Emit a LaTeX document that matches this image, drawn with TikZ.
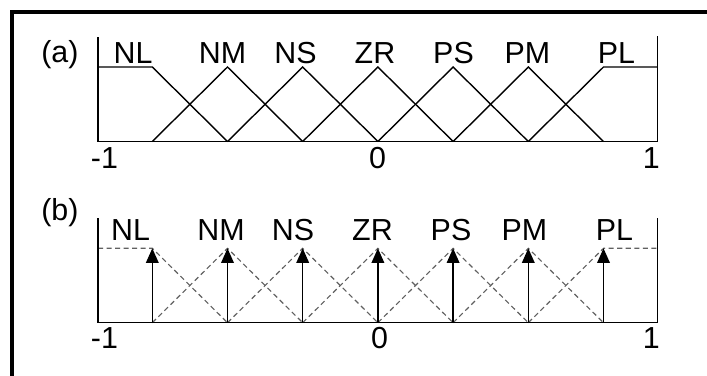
\documentclass[tikz,border=0pt]{standalone}
\usepackage{fontspec}
\setmainfont{Liberation Sans}
\usetikzlibrary{arrows.meta}
\begin{document}
\begin{tikzpicture}[x=0.75pt,y=-0.75pt,
  frame/.style={line width=3pt},
  axisline/.style={line width=1.15pt},
  mfline/.style={line width=1.05pt, line join=miter},
  mfdash/.style={line width=0.85pt, gray!75!black, dash pattern=on 3.8pt off 2.6pt},
  spike/.style={line width=1.15pt, -{Triangle[length=11pt,width=9.5pt]}},
  lbl/.style={font=\fontsize{22.8}{26}\selectfont, anchor=base, inner sep=0pt},
]
\useasboundingbox (0,0) rectangle (707,375);
\begin{scope}
  \clip (0,0) rectangle (707,375);
  \coordinate (fbl) at (12,400);
  \coordinate (ftl) at (12,11.5);
  \coordinate (ftr) at (730,11.5);
  \draw[frame] (fbl) -- (ftl) -- (ftr);
\end{scope}

% ---------- panel (a) ----------
\coordinate (aL0) at (98,141.5);
\coordinate (aLt) at (98,37);
\coordinate (aR0) at (657.3,141.5);
\coordinate (aRt) at (657.3,36);
\coordinate (aLtop) at (98,67);
\coordinate (aRtop) at (657.3,67);
\foreach \i in {0,...,6}{
  \coordinate (ab\i) at ({152.3+75.2*\i},141.5);
  \coordinate (ap\i) at ({152.3+75.2*\i},67);
}
\draw[axisline] (aLt) -- (aL0) -- (aR0) -- (aRt);
\draw[mfline] (aLtop) -- (ap0) -- (ab1);
\foreach \i/\a/\b in {1/0/2,2/1/3,3/2/4,4/3/5,5/4/6}{
  \draw[mfline] (ab\a) -- (ap\i) -- (ab\b);
}
\draw[mfline] (ab5) -- (ap6) -- (aRtop);

\node[lbl, anchor=base west] (alab) at (41,62) {(a)};
\foreach \n/\x in {NL/133,NM/222.5,NS/295.5,ZR/375,PS/453.5,PM/527.5,PL/616.5}{
  \node[lbl] (a\n) at (\x,63) {\n};
}
\node[lbl] (aminus) at (104.5,168) {-1};
\node[lbl] (azero) at (377.5,168.5) {0};
\node[lbl, anchor=base east] (aone) at (660,168) {1};

% ---------- panel (b) ----------
\coordinate (bL0) at (98,322.7);
\coordinate (bLt) at (98,218);
\coordinate (bR0) at (657.3,322.7);
\coordinate (bRt) at (657.3,217.7);
\coordinate (bLtop) at (98,248.3);
\coordinate (bRtop) at (657.3,248.3);
\foreach \i in {0,...,6}{
  \coordinate (bb\i) at ({152.3+75.2*\i},322.7);
  \coordinate (bp\i) at ({152.3+75.2*\i},248.3);
}
\draw[mfdash] (bLtop) -- (bp0) -- (bb1);
\foreach \i/\a/\b in {1/0/2,2/1/3,3/2/4,4/3/5,5/4/6}{
  \draw[mfdash] (bb\a) -- (bp\i) -- (bb\b);
}
\draw[mfdash] (bb5) -- (bp6) -- (bRtop);
\draw[axisline] (bLt) -- (bL0) -- (bR0) -- (bRt);
\foreach \i in {0,...,6}{
  \draw[spike] (bb\i) -- (bp\i);
}

\node[lbl, anchor=base west] (blab) at (41,220) {(b)};
\foreach \n/\x in {NL/130.5,NM/221,NS/293,ZR/372.5,PS/451,PM/524.5,PL/614.5}{
  \node[lbl] (b\n) at (\x,240) {\n};
}
\node[lbl] (bminus) at (104.5,348.3) {-1};
\node[lbl] (bzero) at (379.5,348.8) {0};
\node[lbl, anchor=base east] (bone) at (660,348.3) {1};
\end{tikzpicture}
\end{document}
